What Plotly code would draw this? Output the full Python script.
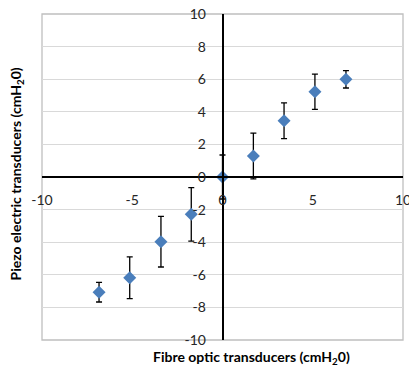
import plotly.graph_objects as go

# Data
fibre_optic = [-6.84, -5.14, -3.41, -1.73, 0.0, 1.71, 3.41, 5.12, 6.84]
piezo = [-7.07, -6.18, -3.97, -2.29, 0.0, 1.29, 3.45, 5.23, 5.99]
piezo_err = [0.6, 1.28, 1.55, 1.64, 1.35, 1.4, 1.1, 1.08, 0.53]

x_ticks = [-10, -5, 0, 5, 10]
y_ticks = [-10, -8, -6, -4, -2, 0, 2, 4, 6, 8, 10]

x_title = "Fibre optic transducers (cmH<sub>2</sub>0)"
y_title = "Piezo electric transducers (cmH<sub>2</sub>0)"

font_family = "Lato, 'Open Sans', sans-serif"

fig = go.Figure()
fig.add_trace(go.Scatter(
    x=fibre_optic, y=piezo, mode="markers",
    marker=dict(symbol="diamond", size=10, color="#4A7EBB"),
    error_y=dict(type="data", array=piezo_err, visible=True,
                 color="#000000", thickness=1.3, width=3),
    showlegend=False,
))

fig.update_layout(
    width=409, height=370,
    margin=dict(l=42, r=6, t=14, b=30, autoexpand=False),
    paper_bgcolor="white", plot_bgcolor="white",
    font=dict(family=font_family, size=14, color="#262626"),
    xaxis=dict(
        range=[-10, 10], tickvals=x_ticks, ticktext=[str(v) for v in x_ticks],
        showgrid=False, zeroline=False, automargin=False,
        showline=True, linecolor="#000000", linewidth=1.6,
        anchor="free", position=0.5, ticks="", ticklabelstandoff=10,
        ticklabeloverflow="allow",
    ),
    yaxis=dict(
        range=[-10, 10], tickvals=y_ticks, ticktext=[str(v) for v in y_ticks],
        showgrid=True, gridcolor="#D9D9D9", gridwidth=1, zeroline=False,
        automargin=False,
        showline=True, linecolor="#000000", linewidth=1.6,
        anchor="free", position=0.5, ticks="", ticklabelstandoff=13,
        ticklabeloverflow="allow",
    ),
    shapes=[dict(type="rect", xref="paper", yref="paper", x0=0, x1=1, y0=0, y1=1,
                 line=dict(color="#BFBFBF", width=1.3), layer="below")],
    annotations=[
        dict(text="<b>" + x_title + "</b>", xref="paper", yref="paper",
             x=0.58, y=-0.055, xanchor="center", yanchor="middle",
             showarrow=False, font=dict(size=14, color="#000000")),
        dict(text="<b>" + y_title + "</b>", xref="paper", yref="paper",
             x=-0.07, y=0.51, xanchor="center", yanchor="middle", textangle=-90,
             showarrow=False, font=dict(size=14, color="#000000")),
    ],
)

fig.write_html("out.html", config={"displayModeBar": False})

# remove the browser's default page margin so the figure sits at (0, 0)
with open("out.html", encoding="utf-8") as f:
    html = f.read()
html = html.replace("<head>", "<head><style>html,body{margin:0;padding:0;overflow:hidden}</style>", 1)
with open("out.html", "w", encoding="utf-8") as f:
    f.write(html)
